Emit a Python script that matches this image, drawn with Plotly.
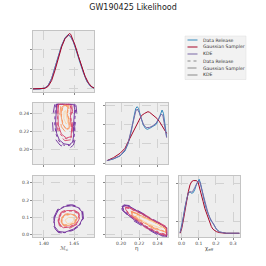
import plotly.graph_objects as go

# ---------------- data ----------------
METHODS = ["Data Release", "Gaussian Sampler", "KDE"]

# 1D marginal: chirp mass
MC_DR_X = [1.3767, 1.3933, 1.4017, 1.4072, 1.4128, 1.4183, 1.4239, 1.4294, 1.4350, 1.4389,
           1.4411, 1.4444, 1.4489, 1.4544, 1.4600, 1.4656, 1.4711, 1.4767, 1.4822, 1.4900]
MC_DR_Y = [0, 0, 0.51, 1.88, 5.30, 10.77, 16.75, 22.39, 26.15, 27.52,
           27.69, 26.84, 24.10, 19.32, 13.33, 8.21, 3.93, 1.54, 0.51, 0.17]
MC_GS_X = [1.3767, 1.3933, 1.4017, 1.4072, 1.4128, 1.4183, 1.4239, 1.4294, 1.4350, 1.4389,
           1.4422, 1.4444, 1.4478, 1.4517, 1.4572, 1.4628, 1.4683, 1.4739, 1.4794, 1.4850, 1.4900]
MC_GS_Y = [0, 0, 0.34, 1.37, 4.27, 9.40, 15.56, 21.54, 25.81, 27.52,
           28.38, 28.03, 25.81, 22.39, 16.75, 11.11, 6.50, 3.08, 1.03, 0.34, 0.17]
MC_KDE_X = MC_DR_X
MC_KDE_Y = [0, 0.05, 0.55, 1.95, 5.4, 10.8, 16.6, 22.1, 25.9, 27.3,
            27.5, 26.8, 24.2, 19.5, 13.6, 8.4, 4.1, 1.6, 0.55, 0.15]

# 1D marginal: eta
ETA_DR_X = [0.1845, 0.1917, 0.1989, 0.2043, 0.2079, 0.2115, 0.2144, 0.2162, 0.2177, 0.2191, 0.2213, 0.2241,
            0.2267, 0.2288, 0.2314, 0.2350, 0.2386, 0.2414, 0.2436, 0.2450, 0.2465, 0.2479, 0.2494, 0.2500]
ETA_DR_Y = [2.42, 4.15, 7.25, 12.44, 20.38, 34.2, 49.05, 56.65, 58.38, 56.65, 49.05, 40.07,
            35.93, 34.89, 35.93, 37.65, 40.07, 45.6, 52.5, 54.92, 51.47, 42.83, 34.2, 27.28]
ETA_GS_X = [0.1845, 0.1917, 0.1989, 0.2043, 0.2097, 0.2151, 0.2187, 0.2223, 0.2259,
            0.2295, 0.2314, 0.2342, 0.2368, 0.2393, 0.2422, 0.2450, 0.2476, 0.2500]
ETA_GS_Y = [2.42, 5.53, 10.02, 15.2, 25.56, 35.93, 42.83, 49.05, 51.47,
            53.2, 52.5, 50.43, 48.01, 46.29, 42.83, 38.69, 35.24, 30.75]
ETA_KDE_X = [0.1845, 0.1917, 0.1989, 0.2043, 0.2079, 0.2115, 0.2141, 0.2162, 0.2177, 0.2198, 0.2223,
             0.2249, 0.2277, 0.2314, 0.2350, 0.2386, 0.2414, 0.2440, 0.2458, 0.2476, 0.2494, 0.2500]
ETA_KDE_Y = [2.42, 4.49, 7.6, 13.47, 21.42, 34.2, 46.29, 53.89, 55.96, 52.5, 45.6,
             39.38, 36.62, 36.96, 38.69, 41.45, 46.29, 50.43, 49.74, 41.11, 31.78, 26.25]

# 1D marginal: chi_eff
CHI_DR_X = [-0.0086, 0.0010, 0.0105, 0.0201, 0.0297, 0.0393, 0.0489, 0.0585, 0.0680, 0.0776, 0.0872, 0.0968,
            0.1025, 0.1102, 0.1179, 0.1255, 0.1351, 0.1447, 0.1543, 0.1639, 0.1735, 0.1830, 0.1926, 0.2022,
            0.2214, 0.2597, 0.3364]
CHI_DR_Y = [0.11, 1.22, 2.78, 4.44, 5.83, 6.78, 6.94, 6.67, 6.78, 7.33, 8.22, 8.89,
            9.0, 8.33, 7.22, 6.11, 5.0, 4.0, 3.22, 2.5, 1.94, 1.67, 1.22, 0.67,
            0.22, 0, 0]
CHI_GS_X = [-0.0086, 0.0010, 0.0105, 0.0201, 0.0297, 0.0393, 0.0489, 0.0585, 0.0680, 0.0872, 0.0968, 0.1064,
            0.1160, 0.1255, 0.1351, 0.1447, 0.1543, 0.1639, 0.1735, 0.1830, 0.2022, 0.2214, 0.2597, 0.3364]
CHI_GS_Y = [0, 0.83, 2.22, 3.89, 5.56, 6.94, 8.06, 8.61, 8.78, 8.78, 8.44, 7.5,
            6.39, 5.28, 4.17, 3.33, 2.5, 1.67, 1.11, 0.67, 0.28, 0.11, 0, 0]
CHI_KDE_X = [-0.0086, 0.0010, 0.0105, 0.0201, 0.0297, 0.0393, 0.0489, 0.0585, 0.0680, 0.0776, 0.0872, 0.0968,
             0.1064, 0.1160, 0.1255, 0.1351, 0.1447, 0.1543, 0.1639, 0.1735, 0.1830, 0.1926, 0.2022,
             0.2214, 0.2597, 0.3364]
CHI_KDE_Y = [0.11, 1.11, 2.67, 4.33, 5.72, 6.67, 6.89, 6.89, 7.11, 7.67, 8.33, 8.72,
             8.56, 7.5, 6.22, 5.11, 4.11, 3.33, 2.61, 2.06, 1.67, 1.22, 0.72,
             0.22, 0, 0]

# 2D credible contours (x, y) — eta vs chirp mass
ETAMC_DR = [
    [(1.4200, 0.25), (1.4185, 0.2400), (1.4180, 0.2280), (1.4200, 0.2170), (1.4250, 0.2090), (1.4330, 0.2045),
     (1.4420, 0.2040), (1.4480, 0.2070), (1.4505, 0.2150), (1.4500, 0.2250), (1.4515, 0.2350), (1.4525, 0.2450), (1.4505, 0.25)],
    [(1.4240, 0.25), (1.4228, 0.2380), (1.4232, 0.2260), (1.4280, 0.2160), (1.4365, 0.2115), (1.4455, 0.2130),
     (1.4470, 0.2230), (1.4450, 0.2340), (1.4458, 0.2445), (1.4440, 0.25)],
    [(1.4310, 0.2460), (1.4290, 0.2370), (1.4320, 0.2270), (1.4380, 0.2215), (1.4425, 0.2235), (1.4415, 0.2325),
     (1.4390, 0.2395), (1.4405, 0.2460), (1.4360, 0.2490)],
]
ETAMC_GS = [
    [(1.4180, 0.25), (1.4156, 0.2408), (1.4144, 0.2293), (1.4156, 0.2179), (1.4200, 0.2103), (1.4267, 0.2046),
     (1.4350, 0.2019), (1.4433, 0.2015), (1.4489, 0.2046), (1.4517, 0.2103), (1.4517, 0.2179), (1.4510, 0.2255),
     (1.4533, 0.2331), (1.4544, 0.2408), (1.4533, 0.2484), (1.4520, 0.25)],
    [(1.4225, 0.25), (1.4210, 0.2380), (1.4215, 0.2250), (1.4260, 0.2150), (1.4350, 0.2095), (1.4445, 0.2105),
     (1.4480, 0.2190), (1.4470, 0.2300), (1.4475, 0.2420), (1.4460, 0.25)],
    [(1.4280, 0.2480), (1.4262, 0.2370), (1.4290, 0.2250), (1.4360, 0.2190), (1.4430, 0.2205), (1.4440, 0.2300),
     (1.4420, 0.2410), (1.4410, 0.2490)],
]
ETAMC_KDE = [
    [(1.4211, 0.25), (1.4200, 0.2408), (1.4194, 0.2293), (1.4211, 0.2179), (1.4256, 0.2103), (1.4333, 0.2060),
     (1.4422, 0.2050), (1.4478, 0.2080), (1.4494, 0.2160), (1.4489, 0.2255), (1.4506, 0.2350), (1.4511, 0.2446), (1.4494, 0.25)],
    [(1.4244, 0.25), (1.4233, 0.2390), (1.4239, 0.2270), (1.4289, 0.2170), (1.4372, 0.2125), (1.4450, 0.2140),
     (1.4461, 0.2240), (1.4440, 0.2350), (1.4450, 0.2450), (1.4430, 0.25)],
    [(1.4300, 0.2470), (1.4283, 0.2380), (1.4310, 0.2280), (1.4370, 0.2225), (1.4420, 0.2240), (1.4410, 0.2330),
     (1.4385, 0.2400), (1.4400, 0.2470), (1.4350, 0.2495)],
    [(1.4335, 0.2420), (1.4330, 0.2340), (1.4370, 0.2280), (1.4395, 0.2300), (1.4375, 0.2370), (1.4360, 0.2430)],
]

# chi_eff vs chirp mass
CHIMC_DR = [
    [(1.4178, 0.100), (1.4235, 0.144), (1.4350, 0.166), (1.4461, 0.170), (1.4570, 0.160), (1.4638, 0.132), (1.4648, 0.093),
     (1.4595, 0.055), (1.4489, 0.028), (1.4350, 0.010), (1.4242, 0.014), (1.4170, 0.044), (1.4166, 0.074)],
    [(1.4262, 0.101), (1.4300, 0.124), (1.4380, 0.136), (1.4485, 0.136), (1.4566, 0.121), (1.4582, 0.093),
     (1.4538, 0.065), (1.4433, 0.046), (1.4326, 0.042), (1.4272, 0.055), (1.4250, 0.079)],
    [(1.4300, 0.092), (1.4355, 0.110), (1.4433, 0.116), (1.4512, 0.110), (1.4538, 0.093), (1.4500, 0.069),
     (1.4422, 0.056), (1.4338, 0.056), (1.4300, 0.074)],
]
CHIMC_GS = [
    [(1.4170, 0.103), (1.4230, 0.147), (1.4350, 0.169), (1.4461, 0.173), (1.4572, 0.163), (1.4644, 0.133), (1.4656, 0.093),
     (1.4600, 0.053), (1.4489, 0.025), (1.4350, 0.007), (1.4239, 0.011), (1.4160, 0.043), (1.4160, 0.073)],
    [(1.4248, 0.105), (1.4290, 0.131), (1.4378, 0.144), (1.4495, 0.143), (1.4580, 0.125), (1.4598, 0.091),
     (1.4550, 0.059), (1.4433, 0.037), (1.4318, 0.034), (1.4258, 0.050), (1.4236, 0.079)],
    [(1.4288, 0.095), (1.4345, 0.117), (1.4433, 0.124), (1.4522, 0.116), (1.4552, 0.093), (1.4512, 0.063),
     (1.4422, 0.048), (1.4328, 0.049), (1.4287, 0.071)],
]
CHIMC_KDE = [
    [(1.4183, 0.103), (1.4239, 0.141), (1.4350, 0.163), (1.4461, 0.167), (1.4565, 0.157), (1.4630, 0.131), (1.4640, 0.093),
     (1.4590, 0.057), (1.4489, 0.031), (1.4350, 0.013), (1.4245, 0.017), (1.4180, 0.045), (1.4172, 0.075)],
    [(1.4256, 0.103), (1.4294, 0.127), (1.4378, 0.139), (1.4489, 0.139), (1.4572, 0.123), (1.4589, 0.093),
     (1.4544, 0.063), (1.4433, 0.043), (1.4322, 0.039), (1.4267, 0.053), (1.4244, 0.079)],
    [(1.4294, 0.093), (1.4350, 0.113), (1.4433, 0.119), (1.4517, 0.113), (1.4544, 0.093), (1.4506, 0.067),
     (1.4422, 0.053), (1.4333, 0.053), (1.4294, 0.073)],
    [(1.4350, 0.083), (1.4406, 0.099), (1.4478, 0.099), (1.4500, 0.083), (1.4461, 0.067), (1.4389, 0.063)],
]

# chi_eff vs eta
CHIETA_DR = [
    [(0.2018, 0.160), (0.2045, 0.166), (0.2098, 0.160), (0.2170, 0.137), (0.2278, 0.104), (0.2386, 0.071), (0.2475, 0.045),
     (0.2500, 0.037), (0.2500, -0.006), (0.2460, -0.006), (0.2350, 0.022), (0.2242, 0.056), (0.2152, 0.086),
     (0.2080, 0.115), (0.2028, 0.143)],
    [(0.2055, 0.155), (0.2098, 0.150), (0.2206, 0.124), (0.2350, 0.080), (0.2490, 0.041), (0.2500, 0.038),
     (0.2500, 0.000), (0.2422, 0.010), (0.2280, 0.046), (0.2152, 0.096), (0.2080, 0.125), (0.2054, 0.147)],
    [(0.2118, 0.131), (0.2242, 0.102), (0.2386, 0.065), (0.2488, 0.031), (0.2488, 0.016), (0.2386, 0.036),
     (0.2244, 0.074), (0.2126, 0.115)],
]
CHIETA_GS = [
    [(0.2008, 0.160), (0.2030, 0.172), (0.2090, 0.168), (0.2166, 0.144), (0.2274, 0.112), (0.2382, 0.078), (0.2472, 0.051),
     (0.2500, 0.044), (0.2500, -0.016), (0.2445, -0.016), (0.2340, 0.015), (0.2232, 0.049), (0.2140, 0.079),
     (0.2068, 0.111), (0.2012, 0.141)],
    [(0.2046, 0.160), (0.2094, 0.157), (0.2202, 0.131), (0.2346, 0.087), (0.2490, 0.048), (0.2500, 0.045),
     (0.2500, -0.008), (0.2412, 0.003), (0.2268, 0.039), (0.2142, 0.089), (0.2070, 0.121), (0.2044, 0.149)],
    [(0.2106, 0.136), (0.2238, 0.109), (0.2382, 0.071), (0.2492, 0.038), (0.2492, 0.009), (0.2378, 0.029),
     (0.2232, 0.067), (0.2114, 0.110)],
]
CHIETA_KDE = [
    [(0.2014, 0.163), (0.2040, 0.169), (0.2094, 0.163), (0.2166, 0.139), (0.2274, 0.107), (0.2382, 0.073), (0.2472, 0.047),
     (0.2500, 0.039), (0.2500, -0.010), (0.2454, -0.010), (0.2346, 0.019), (0.2238, 0.053), (0.2148, 0.083),
     (0.2076, 0.113), (0.2022, 0.143)],
    [(0.2050, 0.157), (0.2094, 0.153), (0.2202, 0.127), (0.2346, 0.083), (0.2490, 0.043), (0.2500, 0.040),
     (0.2500, -0.004), (0.2418, 0.007), (0.2274, 0.043), (0.2148, 0.093), (0.2076, 0.123), (0.2050, 0.147)],
    [(0.2112, 0.133), (0.2238, 0.105), (0.2382, 0.067), (0.2490, 0.033), (0.2490, 0.013), (0.2382, 0.033),
     (0.2238, 0.071), (0.2122, 0.113)],
    [(0.2166, 0.113), (0.2310, 0.083), (0.2454, 0.047), (0.2436, 0.037), (0.2292, 0.063), (0.2166, 0.103)],
]

MC_TICKS = [1.40, 1.45]
MC_TICKTEXT = ["1.40", "1.45"]
ETA_TICKS = [0.20, 0.22, 0.24]
ETA_TICKTEXT = ["0.20", "0.22", "0.24"]
CHI_TICKS = [0.0, 0.1, 0.2, 0.3]
CHI_TICKTEXT = ["0.0", "0.1", "0.2", "0.3"]
MC_DENS_TICKS = [0, 10, 20, 30]
ETA_DENS_TICKS = [0, 20, 40, 60]
CHI_DENS_TICKS = [2.0, 8.33]
AXIS_LABELS = ["ℳ<sub>c</sub>", "η", "χ<sub>eff</sub>"]

# ---------------- style ----------------
W = H = 266
FONT = "DejaVu Sans"
LINE_COLORS = {"Data Release": "#348ABD", "Gaussian Sampler": "#A60628", "KDE": "#7A68A6"}
DASHES = {"Data Release": "dot", "Gaussian Sampler": "dash", "KDE": "solid"}
LEVEL_COLORS = ["#6f2c9a", "#d6456c", "#f8945e", "#fcd3a2"]

COLS = [(33, 94), (106, 168), (179, 240)]
ROWS = [(31, 92), (103, 164), (176, 237)]

MC_RANGE = [1.382, 1.483]
ETA_RANGE = [0.1835, 0.2515]
CHI_RANGE = [-0.015, 0.34]

fig = go.Figure()


def add_1d(ax, xs, ys, method):
    fig.add_trace(go.Scatter(x=xs, y=ys, mode="lines", name=method, showlegend=False,
                             line=dict(color=LINE_COLORS[method], width=1.0),
                             xaxis="x" + ax, yaxis="y" + ax, hoverinfo="skip"))


def add_contours(ax, levels, method):
    for i, pts in enumerate(levels):
        xs = [p[0] for p in pts] + [pts[0][0]]
        ys = [p[1] for p in pts] + [pts[0][1]]
        fig.add_trace(go.Scatter(x=xs, y=ys, mode="lines", showlegend=False, name=method,
                                 line=dict(color=LEVEL_COLORS[i], width=0.9, dash=DASHES[method]),
                                 xaxis="x" + ax, yaxis="y" + ax, hoverinfo="skip"))


# panel 1: Mc 1D
add_1d("", MC_DR_X, MC_DR_Y, "Data Release")
add_1d("", MC_KDE_X, MC_KDE_Y, "KDE")
add_1d("", MC_GS_X, MC_GS_Y, "Gaussian Sampler")
# panel 3: eta 1D
add_1d("3", ETA_DR_X, ETA_DR_Y, "Data Release")
add_1d("3", ETA_GS_X, ETA_GS_Y, "Gaussian Sampler")
add_1d("3", ETA_KDE_X, ETA_KDE_Y, "KDE")
# panel 6: chi 1D
add_1d("6", CHI_DR_X, CHI_DR_Y, "Data Release")
add_1d("6", CHI_GS_X, CHI_GS_Y, "Gaussian Sampler")
add_1d("6", CHI_KDE_X, CHI_KDE_Y, "KDE")
# 2D panels
for ax, dr, gs, kde in [("2", ETAMC_DR, ETAMC_GS, ETAMC_KDE),
                        ("4", CHIMC_DR, CHIMC_GS, CHIMC_KDE),
                        ("5", CHIETA_DR, CHIETA_GS, CHIETA_KDE)]:
    add_contours(ax, dr, "Data Release")
    add_contours(ax, gs, "Gaussian Sampler")
    add_contours(ax, kde, "KDE")


def axis(domain, rng, tickvals, ticktext=None, labels=False, anchor=None):
    d = dict(domain=domain, range=rng, tickvals=tickvals, showticklabels=labels,
             showgrid=True, gridcolor="#d2d2d2", griddash="dash", gridwidth=0.6,
             showline=True, linecolor="#c4c4c4", linewidth=0.8, mirror=True,
             ticks="outside", ticklen=2, tickwidth=0.6, tickcolor="#888888",
             tickfont=dict(family=FONT, size=4.5, color="#444444"),
             zeroline=False, fixedrange=True, anchor=anchor, automargin=False)
    if ticktext is not None:
        d["ticktext"] = ticktext
    return d


def xd(c):
    return [COLS[c][0] / W, COLS[c][1] / W]


def yd(r):
    return [1 - ROWS[r][1] / H, 1 - ROWS[r][0] / H]


layout = dict(
    width=W, height=H, margin=dict(l=0, r=0, t=0, b=0, pad=0),
    paper_bgcolor="white", plot_bgcolor="#eeeeee",
    font=dict(family=FONT),
    title=dict(text="GW190425 Likelihood", x=0.5, xanchor="center", xref="paper",
               yref="container", y=1 - 4.5 / H, yanchor="top", pad=dict(t=0, b=0),
               font=dict(family=FONT, size=8, color="#222222")),
    showlegend=False,
)
# panel 1 (row0,col0)
layout["xaxis"] = axis(xd(0), MC_RANGE, MC_TICKS, MC_TICKTEXT, False, "y")
layout["yaxis"] = axis(yd(0), [-1.54, 29.7], MC_DENS_TICKS, None, False, "x")
# panel 2 (row1,col0)
layout["xaxis2"] = axis(xd(0), MC_RANGE, MC_TICKS, MC_TICKTEXT, False, "y2")
layout["yaxis2"] = axis(yd(1), ETA_RANGE, ETA_TICKS, ETA_TICKTEXT, True, "x2")
# panel 3 (row1,col1)
layout["xaxis3"] = axis(xd(1), ETA_RANGE, ETA_TICKS, ETA_TICKTEXT, False, "y3")
layout["yaxis3"] = axis(yd(1), [-1.04, 62.2], ETA_DENS_TICKS, None, False, "x3")
# panel 4 (row2,col0)
layout["xaxis4"] = axis(xd(0), MC_RANGE, MC_TICKS, MC_TICKTEXT, True, "y4")
layout["yaxis4"] = axis(yd(2), CHI_RANGE, CHI_TICKS, CHI_TICKTEXT, True, "x4")
# panel 5 (row2,col1)
layout["xaxis5"] = axis(xd(1), ETA_RANGE, ETA_TICKS, ETA_TICKTEXT, True, "y5")
layout["yaxis5"] = axis(yd(2), CHI_RANGE, CHI_TICKS, CHI_TICKTEXT, False, "x5")
# panel 6 (row2,col2)
layout["xaxis6"] = axis(xd(2), CHI_RANGE, CHI_TICKS, CHI_TICKTEXT, True, "y6")
layout["yaxis6"] = axis(yd(2), [-0.62, 9.55], CHI_DENS_TICKS, None, False, "x6")

shapes = [dict(type="rect", xref="paper", yref="paper", x0=185 / W, x1=246 / W, y0=1 - 79.5 / H, y1=1 - 36 / H,
               fillcolor="#f2f2f2", line=dict(color="#dddddd", width=0.5), layer="below")]
annotations = []
# axis titles under the bottom row
for c, lab in enumerate(AXIS_LABELS):
    annotations.append(dict(text=lab, xref="paper", yref="paper", x=(COLS[c][0] + COLS[c][1]) / 2 / W,
                            y=1 - 248.5 / H, xanchor="center", yanchor="middle", showarrow=False,
                            font=dict(family=FONT, size=5.5, color="#444444")))
# legend drawn as a box with line samples and labels
legend_items = [(m, LINE_COLORS[m], "solid") for m in METHODS] + [(m, "#8a8a8a", DASHES[m]) for m in METHODS]
for i, (label, col, dash) in enumerate(legend_items):
    yrow = 1 - (40 + 7 * i) / H
    shapes.append(dict(type="line", xref="paper", yref="paper", x0=187.5 / W, x1=197.5 / W, y0=yrow, y1=yrow,
                       line=dict(color=col, width=1.0, dash=dash)))
    annotations.append(dict(text=label, xref="paper", yref="paper", x=200.5 / W, y=yrow, xanchor="left",
                            yanchor="middle", showarrow=False, font=dict(family=FONT, size=4.6, color="#333333")))
layout["shapes"] = shapes
layout["annotations"] = annotations

fig.update_layout(**layout)
fig.write_html("out.html", config={"displayModeBar": False},
               post_script="document.body.style.margin='0';document.body.style.overflow='hidden';")
